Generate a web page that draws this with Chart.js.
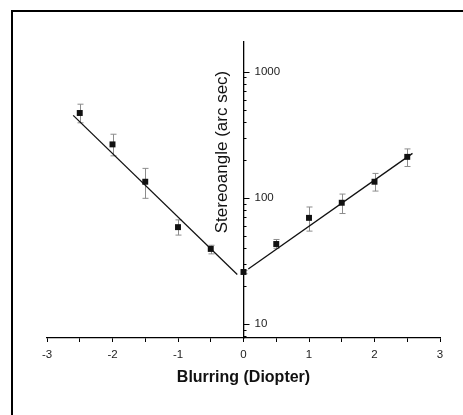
<!DOCTYPE html>
<html>
<head>
<meta charset="utf-8">
<script src="https://cdn.jsdelivr.net/npm/chart.js@4.4.1/dist/chart.umd.min.js"></script>
<style>
  html, body { margin: 0; padding: 0; background: #fff; overflow: hidden; }
  #wrap { position: relative; width: 463px; height: 415px; }
  #frame { position: absolute; left: 11px; top: 10px; width: 480px; height: 430px; border: 2px solid #000; pointer-events: none; }
</style>
</head>
<body>
<div id="wrap">
  <canvas id="stereoChart" width="463" height="415"></canvas>
  <div id="frame"></div>
</div>
<script>
// measured points (blurring in diopter, stereoangle in arc sec)
const blur = [-2.5, -2, -1.5, -1, -0.5, 0, 0.5, 1, 1.5, 2, 2.5];
const stereo = [470, 265, 134, 58.5, 39.3, 25.8, 43, 69.3, 91.3, 134, 211];
const errHigh = [552, 319, 171, 66.8, 42, 26.6, 46.7, 84.5, 107, 156, 244];
const errLow = [393, 215, 99, 50.6, 35.9, 25.0, 39.8, 54.4, 75, 113, 177];

// fitted lines
const fitLeftX = [-2.6, -0.095];
const fitLeftY = [450, 24.6];
const fitRightX = [0.073, 2.58];
const fitRightY = [27.2, 225];

// axis ticks
const yTickLabels = [10, 100, 1000];
const yMin = 7.73;
const yMax = 1718;

const toXY = (xs, ys) => xs.map((v, i) => ({ x: v, y: ys[i] }));

const font = "'Liberation Sans', Arial, sans-serif";

// error bars under the markers
const errorBars = {
    id: 'errorBars',
    beforeDatasetsDraw(chart) {
        const { ctx, scales: { x, y } } = chart;
        ctx.save();
        ctx.strokeStyle = '#8c8c8c';
        ctx.lineWidth = 1;
        blur.forEach((b, i) => {
            const px = Math.round(x.getPixelForValue(b)) + 0.5;
            const top = y.getPixelForValue(errHigh[i]);
            const bot = y.getPixelForValue(errLow[i]);
            ctx.beginPath();
            ctx.moveTo(px, top); ctx.lineTo(px, bot);
            ctx.moveTo(px - 3, top); ctx.lineTo(px + 3, top);
            ctx.moveTo(px - 3, bot); ctx.lineTo(px + 3, bot);
            ctx.stroke();
        });
        ctx.restore();
    },
};

// y axis sits at x = 0, ticks and labels on its right side
const centerAxis = {
    id: 'centerAxis',
    afterDraw(chart) {
        const { ctx, scales: { x, y }, chartArea } = chart;
        const ax = x.getPixelForValue(0);
        ctx.save();
        ctx.strokeStyle = '#000';
        ctx.lineWidth = 1;
        ctx.beginPath();
        for (let d = 1; d <= 1000; d *= 10) {
            for (let m = 2; m <= 9; m++) {
                const v = m * d;
                if (v < yMin || v > yMax) continue;
                const py = Math.round(y.getPixelForValue(v)) + 0.5;
                ctx.moveTo(ax, py); ctx.lineTo(ax + 3, py);
            }
        }
        yTickLabels.forEach(v => {
            const py = Math.round(y.getPixelForValue(v)) + 0.5;
            ctx.moveTo(ax, py); ctx.lineTo(ax + 6, py);
        });
        ctx.stroke();

        ctx.fillStyle = '#222';
        ctx.font = '11.5px ' + font;
        ctx.textAlign = 'left';
        ctx.textBaseline = 'middle';
        yTickLabels.forEach(v => {
            ctx.fillText(String(v), ax + 11, y.getPixelForValue(v));
        });

        // axis title
        ctx.save();
        ctx.translate(ax - 21, chartArea.top + 110);
        ctx.rotate(-Math.PI / 2);
        ctx.textAlign = 'center';
        ctx.fillStyle = '#111';
        ctx.font = '17px ' + font;
        ctx.fillText('Stereoangle (arc sec)', 0, 0);
        ctx.restore();
        ctx.restore();
    },
};

new Chart(document.getElementById('stereoChart'), {
    type: 'scatter',
    data: {
        datasets: [
            {
                label: 'fit left',
                data: toXY(fitLeftX, fitLeftY),
                showLine: true,
                borderColor: '#111',
                borderWidth: 1.3,
                pointRadius: 0,
            },
            {
                label: 'fit right',
                data: toXY(fitRightX, fitRightY),
                showLine: true,
                borderColor: '#111',
                borderWidth: 1.3,
                pointRadius: 0,
            },
            {
                label: 'Stereoangle',
                data: toXY(blur, stereo),
                pointStyle: 'rect',
                pointRadius: 4.2,
                backgroundColor: '#111',
                borderColor: '#111',
                borderWidth: 0,
            },
        ],
    },
    options: {
        responsive: false,
        animation: false,
        layout: { padding: { left: 47, right: 23, top: 42, bottom: 25 } },
        plugins: {
            legend: { display: false },
            tooltip: { enabled: false },
        },
        scales: {
            x: {
                type: 'linear',
                min: -3,
                max: 3,
                grid: {
                    display: true,
                    drawOnChartArea: false,
                    drawTicks: true,
                    tickLength: 4,
                    color: '#000',
                },
                border: { display: true, color: '#000', width: 1.3 },
                ticks: {
                    stepSize: 0.5,
                    autoSkip: false,
                    maxRotation: 0,
                    padding: 6,
                    color: '#222',
                    font: { family: font, size: 11.5 },
                    callback: v => (Number.isInteger(v) ? String(v) : ''),
                },
                title: {
                    display: true,
                    text: 'Blurring (Diopter)',
                    color: '#111',
                    font: { family: font, size: 16, weight: 'bold' },
                    padding: { top: 0, bottom: 3 },
                },
            },
            y: {
                type: 'logarithmic',
                min: yMin,
                max: yMax,
                position: { x: 0 },
                grid: { display: false, drawTicks: false },
                border: { display: true, color: '#000', width: 1.3 },
                ticks: { display: false },
            },
        },
    },
    plugins: [errorBars, centerAxis],
});
</script>
</body>
</html>
